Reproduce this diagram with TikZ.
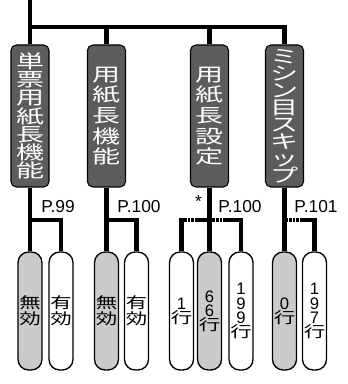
\documentclass[tikz,border=0pt]{standalone}
\usepackage{fontspec}
\setmainfont{Liberation Sans}
\newfontfamily\jpfont[FakeStretch=1.5]{Noto Sans CJK JP}
\newfontfamily\jpsfont[FakeStretch=1.4]{Noto Sans CJK JP}
\usetikzlibrary{calc,positioning}
\definecolor{topgray}{RGB}{92,92,92}
\definecolor{optgray}{RGB}{203,203,203}
\newcommand{\dg}[1]{{\rmfamily\fontsize{12.5}{10.5}\selectfont #1}}

\begin{document}
\begin{tikzpicture}[x=0.75pt,y=-0.75pt,
  trunk/.style={line width=3.4pt,line join=miter},
  dotline/.style={line width=2.4pt,dash pattern=on 1.6pt off 1pt},
  menubox/.style={draw,line width=0.8pt,fill=topgray,text=white,rounded corners=4pt,
    minimum width=28.5pt,minimum height=106.5pt,inner sep=0pt,align=center},
  optbox/.style={draw,line width=1pt,fill=white,rounded corners=8pt,
    minimum width=18pt,minimum height=88.5pt,inner sep=0pt,align=center},
  deflt/.style={fill=optgray},
  kanji/.style={font=\jpsfont\fontsize{11.5}{12}\selectfont},
  digits/.style={font=\jpsfont\fontsize{11.5}{10.6}\selectfont},
  pagelbl/.style={anchor=base,inner sep=0pt,font=\fontsize{13}{14}\selectfont}]
\useasboundingbox (0,0) rectangle (348,384);

% menu items
\node[menubox,font=\jpfont\fontsize{14}{13.6}\selectfont] (single) at (30,116)
  {単\\票\\用\\紙\\長\\機\\能};
\node[menubox,font=\jpfont\fontsize{14}{15.5}\selectfont] (length) at (106.5,116)
  {用\\紙\\長\\機\\能};
\node[menubox,font=\jpfont\fontsize{14}{15.5}\selectfont] (lenset) at (209.5,116)
  {用\\紙\\長\\設\\定};
\node[menubox,font=\jpfont\fontsize{14}{12.7}\selectfont] (skip) at (284.5,116)
  {ミ\\シ\\ン\\目\\ス\\キ\\ッ\\プ};

% choices
\node[optbox,deflt,kanji] (singleoff) at (30,311) {無\\効};
\node[optbox,kanji] (singleon) at (61,311) {有\\効};
\node[optbox,deflt,kanji] (lengthoff) at (106.5,311) {無\\効};
\node[optbox,kanji] (lengthon) at (136.5,311) {有\\効};
\node[optbox,digits] (lenone) at (181.5,311) {\dg{1}\\行};
\node[optbox,deflt,digits] (lensix) at (209.5,311) {\dg{6}\\\dg{6}\\行};
\node[optbox,digits] (lenmax) at (241,311) {\dg{1}\\\dg{9}\\\dg{9}\\行};
\node[optbox,deflt,digits] (skipzero) at (284.5,311) {\dg{0}\\行};
\node[optbox,digits] (skipmax) at (314.5,311) {\dg{1}\\\dg{9}\\\dg{7}\\行};

% tree
\coordinate (root) at (30,0);
\coordinate (bar) at (30,27);
\draw[trunk] (root) -- (single.north);
\draw[trunk] (bar) -| (skip.north);
\draw[trunk] (length.north |- bar) -- (length.north);
\draw[trunk] (lenset.north |- bar) -- (lenset.north);

\draw[trunk] (single.south) -- (singleoff.north);
\draw[trunk] (single.south |- 0,220) -| (singleon.north);
\draw[trunk] (length.south) -- (lengthoff.north);
\draw[trunk] (length.south |- 0,220) -| (lengthon.north);

\coordinate (lsA) at (184,220);
\coordinate (lsB) at (197,220);
\coordinate (lsC) at (213,220);
\coordinate (lsD) at (225,220);
\draw[trunk] (lenset.south) -- (lensix.north);
\draw[trunk] (lsB) -- (lsC);
\draw[dotline] (lsB) -- (lsA);
\draw[dotline] (lsC) -- (lsD);
\draw[trunk] (lsA) -| (lenone.north);
\draw[trunk] (lsD) -| (lenmax.north);

\coordinate (skA) at (286,220);
\coordinate (skB) at (300,220);
\draw[trunk] (skip.south) -- (skipzero.north);
\draw[dotline] (skA) -- (skB);
\draw[trunk] (skB) -| (skipmax.north);

% page refs
\node[pagelbl] (ref99) at (58,212) {P.99};
\node[pagelbl] (ref100a) at (139,212) {P.100};
\node[pagelbl] (star) at (198.5,208) {*};
\node[pagelbl] (ref100b) at (240,212) {P.100};
\node[pagelbl] (ref101) at (316,212) {P.101};
\end{tikzpicture}
\end{document}
